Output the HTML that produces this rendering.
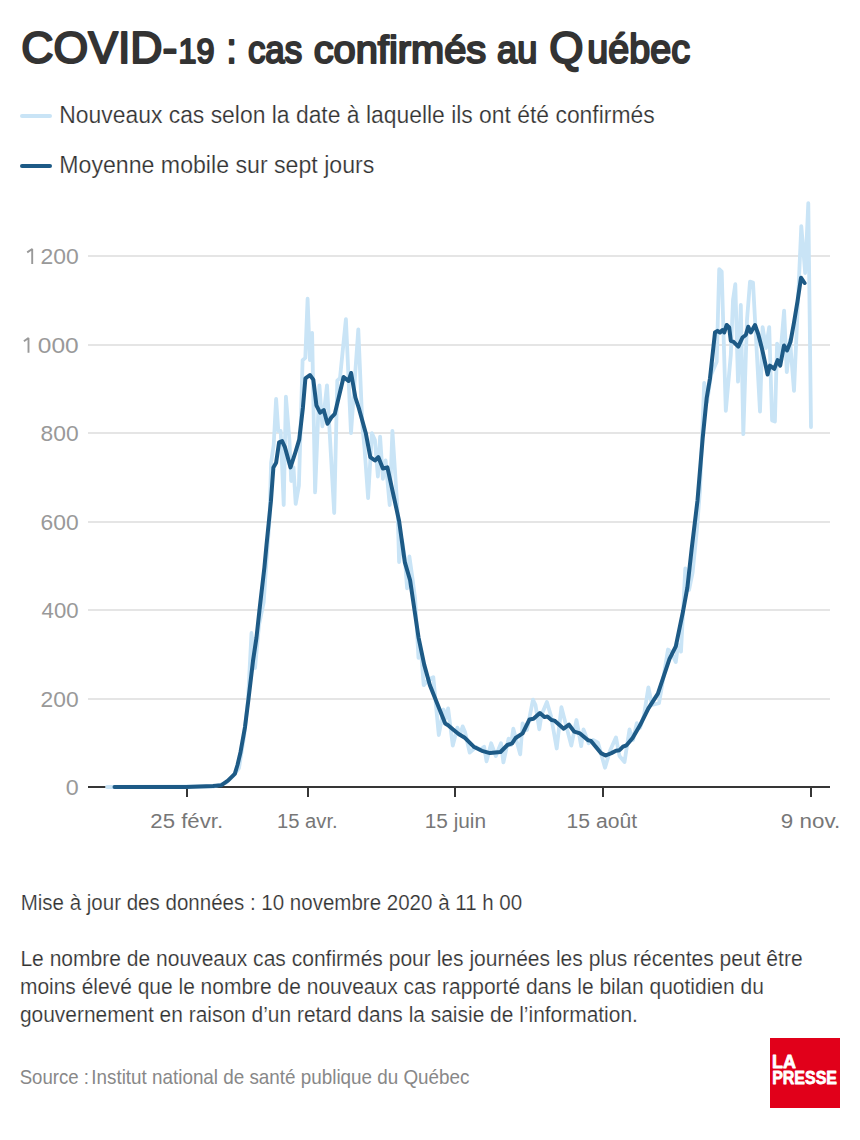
<!DOCTYPE html><html><head><meta charset="utf-8"><style>html,body{margin:0;padding:0;background:#fff;overflow:hidden;}svg{display:block;}text{font-family:"Liberation Sans",sans-serif;}</style></head><body>
<svg width="860" height="1140" viewBox="0 0 860 1140">
<rect width="860" height="1140" fill="#fff"/>
<line x1="22" y1="116" x2="50" y2="116" stroke="#c9e4f6" stroke-width="4" stroke-linecap="round"/>
<line x1="22" y1="166" x2="50" y2="166" stroke="#1d5a86" stroke-width="4" stroke-linecap="round"/>
<line x1="88" y1="256.0" x2="830" y2="256.0" stroke="#e5e5e5" stroke-width="2"/>
<line x1="88" y1="345.0" x2="830" y2="345.0" stroke="#e5e5e5" stroke-width="2"/>
<line x1="88" y1="433.0" x2="830" y2="433.0" stroke="#e5e5e5" stroke-width="2"/>
<line x1="88" y1="522.0" x2="830" y2="522.0" stroke="#e5e5e5" stroke-width="2"/>
<line x1="88" y1="610.0" x2="830" y2="610.0" stroke="#e5e5e5" stroke-width="2"/>
<line x1="88" y1="699.0" x2="830" y2="699.0" stroke="#e5e5e5" stroke-width="2"/>
<line x1="88" y1="787" x2="830" y2="787" stroke="#363636" stroke-width="2"/>
<line x1="187" y1="787" x2="187" y2="797" stroke="#363636" stroke-width="2"/>
<line x1="308" y1="787" x2="308" y2="797" stroke="#363636" stroke-width="2"/>
<line x1="455" y1="787" x2="455" y2="797" stroke="#363636" stroke-width="2"/>
<line x1="603" y1="787" x2="603" y2="797" stroke="#363636" stroke-width="2"/>
<line x1="811" y1="787" x2="811" y2="797" stroke="#363636" stroke-width="2"/>
<polyline points="107.0,787.0 214.0,786.5 226.0,783.0 233.0,776.0 239.0,768.0 244.0,737.0 248.0,700.0 251.5,633.0 255.0,668.0 259.0,625.0 263.7,602.0 266.5,560.0 269.5,520.0 271.1,462.8 273.7,445.0 276.1,399.0 278.3,431.0 280.7,431.0 283.7,505.0 285.9,396.7 289.4,440.0 291.2,481.0 293.5,467.4 295.7,503.8 298.9,485.6 302.6,360.2 305.3,357.9 307.6,298.7 309.9,360.2 312.1,332.9 315.1,492.4 319.4,385.3 322.4,426.3 327.0,385.3 334.2,513.0 337.3,380.7 340.0,378.0 345.9,319.2 351.0,433.2 358.3,329.5 362.4,426.0 364.6,449.0 368.1,498.1 371.9,433.2 374.9,440.0 377.9,476.5 380.1,436.6 382.9,478.8 385.6,460.5 389.7,505.0 392.4,430.9 397.7,513.0 399.1,562.0 402.0,540.0 404.8,558.0 407.1,588.3 409.4,556.4 412.0,575.0 415.1,598.5 418.5,657.8 421.0,650.0 423.7,685.2 428.0,680.0 433.3,677.2 438.8,735.0 443.5,709.5 446.0,718.0 448.1,708.4 452.8,745.6 457.4,727.6 460.0,735.0 462.7,726.4 465.0,732.0 469.7,752.6 476.0,747.0 480.0,750.0 484.2,746.7 486.5,761.3 491.2,743.3 495.8,756.0 501.0,743.3 503.4,762.4 508.6,738.6 511.0,745.0 513.3,728.7 520.2,754.3 522.6,723.5 527.0,730.0 533.0,699.7 535.5,705.0 539.3,729.3 541.5,715.0 546.9,702.0 551.0,716.0 556.7,748.5 561.4,707.2 566.0,725.0 571.3,745.6 576.5,720.0 581.2,746.2 583.5,729.3 588.7,743.3 593.0,740.0 598.0,742.7 605.0,767.7 610.2,750.2 616.0,737.4 619.5,756.0 624.5,762.0 629.5,729.5 633.0,740.0 636.8,723.2 640.0,728.0 644.0,715.0 648.4,687.4 652.0,705.0 659.0,703.2 663.0,680.0 668.0,649.5 671.0,652.0 675.8,662.1 678.0,645.0 681.0,651.6 685.3,568.4 689.0,590.0 692.6,572.6 696.8,530.5 700.0,490.0 704.2,383.0 707.1,402.0 711.0,375.0 716.7,361.7 719.2,269.2 721.7,271.7 725.8,410.8 730.8,355.0 733.0,300.0 735.3,284.2 738.0,381.7 740.8,305.0 743.3,434.2 747.0,320.0 750.0,281.7 753.0,282.5 760.0,411.7 762.6,327.1 766.0,348.0 769.2,327.1 772.1,420.4 774.9,421.5 777.1,343.6 780.0,360.0 784.1,310.7 786.8,372.1 790.0,340.0 794.0,390.8 801.3,226.2 805.2,273.0 808.3,203.2 811.0,427.0" fill="none" stroke="#c9e4f6" stroke-width="3.8" stroke-linejoin="round" stroke-linecap="round"/>
<polyline points="114.5,787.0 186.0,787.0 213.0,786.0 221.1,785.3 227.9,780.7 234.8,773.9 237.5,765.0 240.5,752.2 245.0,727.1 248.4,699.7 253.0,660.9 256.4,638.1 259.9,606.2 264.4,567.4 266.5,545.0 270.9,501.4 273.4,467.4 276.1,462.8 279.1,442.3 282.1,441.1 284.8,446.8 290.5,467.4 295.5,452.0 299.2,439.7 302.9,407.7 305.4,378.3 309.9,375.0 313.3,379.6 316.4,405.3 320.1,412.7 323.8,410.2 327.5,423.7 331.2,417.6 334.8,413.9 343.6,377.0 348.5,381.0 351.1,373.0 355.4,397.5 358.8,408.0 365.8,433.2 370.3,457.1 374.9,460.5 378.3,457.1 382.9,468.5 387.4,467.4 399.1,521.0 404.8,562.1 410.1,580.3 418.5,637.3 424.2,664.6 429.9,685.2 439.0,708.0 445.2,723.5 448.1,725.2 452.8,729.3 458.6,734.0 464.4,737.4 473.7,746.7 481.9,750.8 490.0,753.1 500.5,752.0 507.4,745.0 512.1,743.3 515.6,738.0 522.6,733.4 529.5,719.4 533.5,718.8 539.9,713.0 544.5,717.1 547.4,716.5 551.5,720.0 554.4,720.6 563.7,728.7 569.0,724.7 574.2,731.6 580.0,733.4 588.1,740.3 591.0,740.9 600.9,753.1 605.6,755.5 611.4,753.1 616.0,750.8 619.5,750.2 623.0,746.7 626.5,745.3 632.6,737.9 640.0,725.3 648.4,708.4 657.9,693.7 669.5,658.9 675.8,646.3 683.2,610.5 687.4,587.4 691.6,549.5 697.5,500.4 702.7,438.0 706.7,398.0 710.0,378.3 715.0,332.5 717.5,330.8 720.0,332.5 722.5,330.0 724.2,332.5 726.7,325.0 729.2,327.5 730.8,340.8 733.3,341.7 738.3,346.7 742.5,337.5 745.8,335.0 748.3,326.7 750.8,332.5 755.0,325.0 758.3,334.2 762.5,350.8 767.6,374.5 769.9,365.6 774.3,368.8 777.6,360.1 780.2,365.6 784.0,345.5 787.0,350.5 790.5,341.8 794.0,322.5 797.5,301.4 801.0,277.7 804.6,283.0" fill="none" stroke="#1d5a86" stroke-width="4" stroke-linejoin="round" stroke-linecap="round"/>
<path d="M32.2,264 V249 L27.2,252.4 M28.5,352.8 V337.9 L23.9,341.3" fill="none" stroke="#999" stroke-width="1.9" stroke-linejoin="bevel"/>
<rect x="770" y="1038" width="70" height="70" fill="#e1001a"/>
<text x="21.31" y="63.4" font-size="45" font-weight="normal" fill="#333" stroke="#333" stroke-width="2.1" stroke-linejoin="round" textLength="156.09" lengthAdjust="spacingAndGlyphs">COVID-</text>
<text x="178.49" y="63.4" font-size="35.5" font-weight="normal" fill="#333" stroke="#333" stroke-width="2.1" stroke-linejoin="round" textLength="35.97" lengthAdjust="spacingAndGlyphs">19</text>
<text x="226.56" y="63.4" font-size="42" font-weight="normal" fill="#333" stroke="#333" stroke-width="2.1" stroke-linejoin="round" textLength="10.17" lengthAdjust="spacingAndGlyphs">:</text>
<text x="247.90" y="63.4" font-size="39.5" font-weight="normal" fill="#333" stroke="#333" stroke-width="2.1" stroke-linejoin="round" textLength="54.31" lengthAdjust="spacingAndGlyphs">cas</text>
<text x="313.70" y="63.4" font-size="39.5" font-weight="normal" fill="#333" stroke="#333" stroke-width="2.1" stroke-linejoin="round" textLength="172.52" lengthAdjust="spacingAndGlyphs">confirmés</text>
<text x="497.10" y="63.4" font-size="39.5" font-weight="normal" fill="#333" stroke="#333" stroke-width="2.1" stroke-linejoin="round" textLength="40.26" lengthAdjust="spacingAndGlyphs">au</text>
<text x="549.32" y="63.4" font-size="45" font-weight="normal" fill="#333" stroke="#333" stroke-width="2.1" stroke-linejoin="round" textLength="34.27" lengthAdjust="spacingAndGlyphs">Q</text>
<text x="587.36" y="63.4" font-size="40" font-weight="normal" fill="#333" stroke="#333" stroke-width="2.1" stroke-linejoin="round" textLength="102.73" lengthAdjust="spacingAndGlyphs">uébec</text>
<text x="59.31" y="122.8" font-size="23" font-weight="normal" fill="#333" stroke="#fff" stroke-width="0.2" textLength="595.35" lengthAdjust="spacingAndGlyphs">Nouveaux cas selon la date à laquelle ils ont été confirmés</text>
<text x="59.29" y="172.6" font-size="23" font-weight="normal" fill="#333" stroke="#fff" stroke-width="0.2" textLength="315.03" lengthAdjust="spacingAndGlyphs">Moyenne mobile sur sept jours</text>
<text x="40.53" y="264" font-size="21.5" font-weight="normal" fill="#999" textLength="38.23" lengthAdjust="spacingAndGlyphs">200</text>
<text x="37.86" y="352.7" font-size="21.5" font-weight="normal" fill="#999" textLength="40.90" lengthAdjust="spacingAndGlyphs">000</text>
<text x="40.54" y="441" font-size="21.5" font-weight="normal" fill="#999" textLength="38.03" lengthAdjust="spacingAndGlyphs">800</text>
<text x="40.54" y="529.5" font-size="21.5" font-weight="normal" fill="#999" textLength="38.03" lengthAdjust="spacingAndGlyphs">600</text>
<text x="41.60" y="618" font-size="21.5" font-weight="normal" fill="#999" textLength="36.97" lengthAdjust="spacingAndGlyphs">400</text>
<text x="40.54" y="706.5" font-size="21.5" font-weight="normal" fill="#999" textLength="38.03" lengthAdjust="spacingAndGlyphs">200</text>
<text x="65.72" y="795" font-size="21.5" font-weight="normal" fill="#999" textLength="12.95" lengthAdjust="spacingAndGlyphs">0</text>
<text x="150.39" y="828" font-size="20" font-weight="normal" fill="#777" textLength="72.69" lengthAdjust="spacingAndGlyphs">25 févr.</text>
<text x="276.99" y="828" font-size="20" font-weight="normal" fill="#777" textLength="60.67" lengthAdjust="spacingAndGlyphs">15 avr.</text>
<text x="424.66" y="828" font-size="20" font-weight="normal" fill="#777" textLength="61.42" lengthAdjust="spacingAndGlyphs">15 juin</text>
<text x="566.64" y="828" font-size="20" font-weight="normal" fill="#777" textLength="70.48" lengthAdjust="spacingAndGlyphs">15 août</text>
<text x="780.88" y="828" font-size="20" font-weight="normal" fill="#777" textLength="59.24" lengthAdjust="spacingAndGlyphs">9 nov.</text>
<text x="20.65" y="910" font-size="21.5" font-weight="normal" fill="#333" stroke="#fff" stroke-width="0.2" textLength="501.55" lengthAdjust="spacingAndGlyphs">Mise à jour des données : 10 novembre 2020 à 11 h 00</text>
<text x="20.42" y="965.8" font-size="21.5" font-weight="normal" fill="#333" stroke="#fff" stroke-width="0.2" textLength="782.21" lengthAdjust="spacingAndGlyphs">Le nombre de nouveaux cas confirmés pour les journées les plus récentes peut être</text>
<text x="19.92" y="993.8" font-size="21.5" font-weight="normal" fill="#333" stroke="#fff" stroke-width="0.2" textLength="743.92" lengthAdjust="spacingAndGlyphs">moins élevé que le nombre de nouveaux cas rapporté dans le bilan quotidien du</text>
<text x="19.93" y="1021.5" font-size="21.5" font-weight="normal" fill="#333" stroke="#fff" stroke-width="0.2" textLength="617.96" lengthAdjust="spacingAndGlyphs">gouvernement en raison d’un retard dans la saisie de l’information.</text>
<text x="19.71" y="1083.8" font-size="21" font-weight="normal" fill="#888" textLength="69.26" lengthAdjust="spacingAndGlyphs">Source :</text>
<text x="91.31" y="1083.8" font-size="21" font-weight="normal" fill="#888" textLength="378.13" lengthAdjust="spacingAndGlyphs">Institut national de santé publique du Québec</text>
<text x="772.06" y="1067.6" font-size="19" font-weight="bold" fill="#fff" stroke="#fff" stroke-width="0.8" stroke-linejoin="round" textLength="23.85" lengthAdjust="spacingAndGlyphs">LA</text>
<text x="772.16" y="1084.3" font-size="19" font-weight="bold" fill="#fff" stroke="#fff" stroke-width="0.8" stroke-linejoin="round" textLength="64.82" lengthAdjust="spacingAndGlyphs">PRESSE</text>
</svg></body></html>
